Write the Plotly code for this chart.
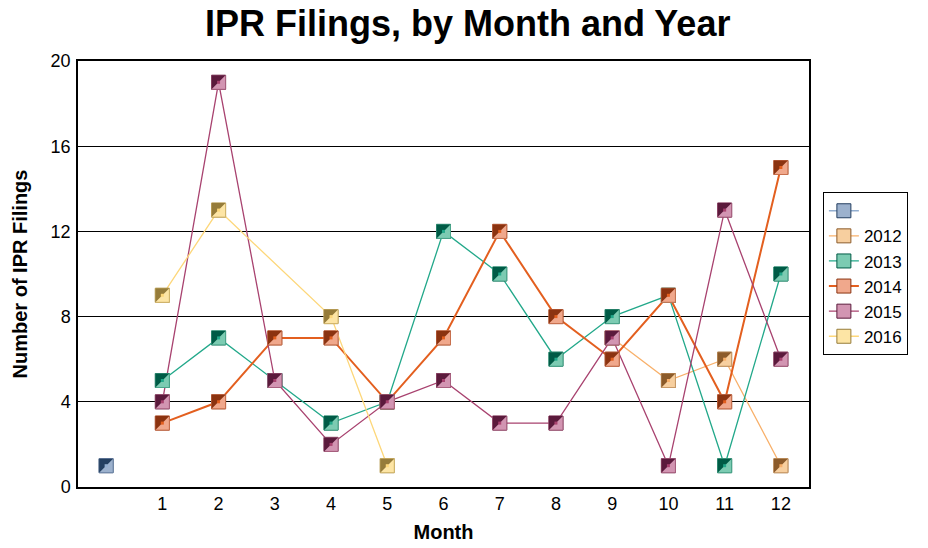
import plotly.graph_objects as go

months = list(range(1, 13))

blank_x = [0]
blank_y = [1]

y2012 = [None, None, None, None, None, None, None, None, 7, 5, 6, 1]
y2013 = [5, 7, 5, 3, 4, 12, 10, 6, 8, 9, 1, 10]
y2014 = [3, 4, 7, 7, 4, 7, 12, 8, 6, 9, 4, 15]
y2015 = [4, 19, 5, 2, 4, 5, 3, 3, 7, 1, 13, 6]
y2016 = [9, 13, None, 8, 1, None, None, None, None, None, None, None]

series_names = [" ", "2012", "2013", "2014", "2015", "2016"]
series_x = [blank_x, months, months, months, months, months]
series_y = [blank_y, y2012, y2013, y2014, y2015, y2016]

line_colors = ["#93aecf", "#f8b06a", "#22a88a", "#e35f1f", "#a8426f", "#fdd77a"]
dark_colors = ["#243f60", "#8c5b2a", "#005b46", "#8b3310", "#5b1a3c", "#967c3a"]
light_colors = ["#9cb1cd", "#f7cf9f", "#7ccbb2", "#f0a88c", "#d295b2", "#fde5a5"]
edge_colors = ["#6f87a8", "#c99a68", "#4aa58a", "#c8704e", "#a8607f", "#d2b66c"]
line_widths = [1.3, 1.3, 1.3, 2.0, 1.3, 1.3]

FONT = "Liberation Sans, Arial, sans-serif"

fig = go.Figure()
shapes = []
h = 7
for name, xs, ys, lc, dc, lt, ec, lw in zip(series_names, series_x, series_y,
                                            line_colors, dark_colors, light_colors,
                                            edge_colors, line_widths):
    fig.add_trace(go.Scatter(
        x=xs, y=ys, name=name, mode="lines+markers", connectgaps=True,
        line=dict(color=lc, width=lw),
        marker=dict(symbol="square", size=14, color=lt,
                    line=dict(color=dc, width=1)),
        hoverinfo="x+y+name",
    ))
    for xv, yv in zip(xs, ys):
        if yv is None:
            continue
        common = dict(type="path", xref="x", yref="y", xsizemode="pixel",
                      ysizemode="pixel", xanchor=xv, yanchor=yv, layer="above")
        shapes.append(dict(common, path=f"M-{h},-{h} L{h},-{h} L{h},{h} L-{h},{h} Z",
                           fillcolor=lt, line=dict(color=ec, width=1)))
        shapes.append(dict(common, path=f"M-{h},{h} L{h},{h} L-{h},-{h} Z",
                           fillcolor=dc, line=dict(width=0)))
        shapes.append(dict(common, path="M-1.5,-1.5 L1.5,-1.5 L1.5,1.5 L-1.5,1.5 Z",
                           fillcolor=lc, line=dict(width=0)))

fig.update_layout(
    width=928, height=548,
    margin=dict(l=78, r=119, t=61, b=61),
    paper_bgcolor="white", plot_bgcolor="white",
    font=dict(family=FONT, size=18, color="black"),
    title=dict(text="<b>IPR Filings, by Month and Year</b>",
               font=dict(family=FONT, size=36, color="black"),
               x=0.504, xanchor="center", y=0.958, yanchor="middle",
               xref="container", yref="container"),
    showlegend=True,
    legend=dict(x=1.019, xanchor="left", y=0.692, yanchor="top",
                bordercolor="black", borderwidth=1, bgcolor="white",
                font=dict(family=FONT, size=17, color="black"),
                tracegroupgap=0, itemwidth=30),
    shapes=shapes,
    xaxis=dict(range=[-0.5, 12.5], tickmode="array", tickvals=months,
               ticktext=[str(m) for m in months], showgrid=False,
               zeroline=False, showline=True, linecolor="black", linewidth=1.5,
               mirror=True, ticks="", tickfont=dict(size=18), automargin=False,
               title=dict(text="<b>Month</b>", font=dict(size=20), standoff=12)),
    yaxis=dict(range=[0, 20], dtick=4, tick0=0, showgrid=True,
               gridcolor="black", gridwidth=1, zeroline=False, showline=True,
               linecolor="black", linewidth=1.5, mirror=True, ticks="",
               tickfont=dict(size=18), ticklabelstandoff=2, automargin=False,
               title=dict(text="<b>Number of IPR Filings</b>", font=dict(size=20),
                          standoff=18)),
)

fig.write_html("out.html", config={"displayModeBar": False},
               post_script="document.body.style.margin='0';document.body.style.overflow='hidden';")
